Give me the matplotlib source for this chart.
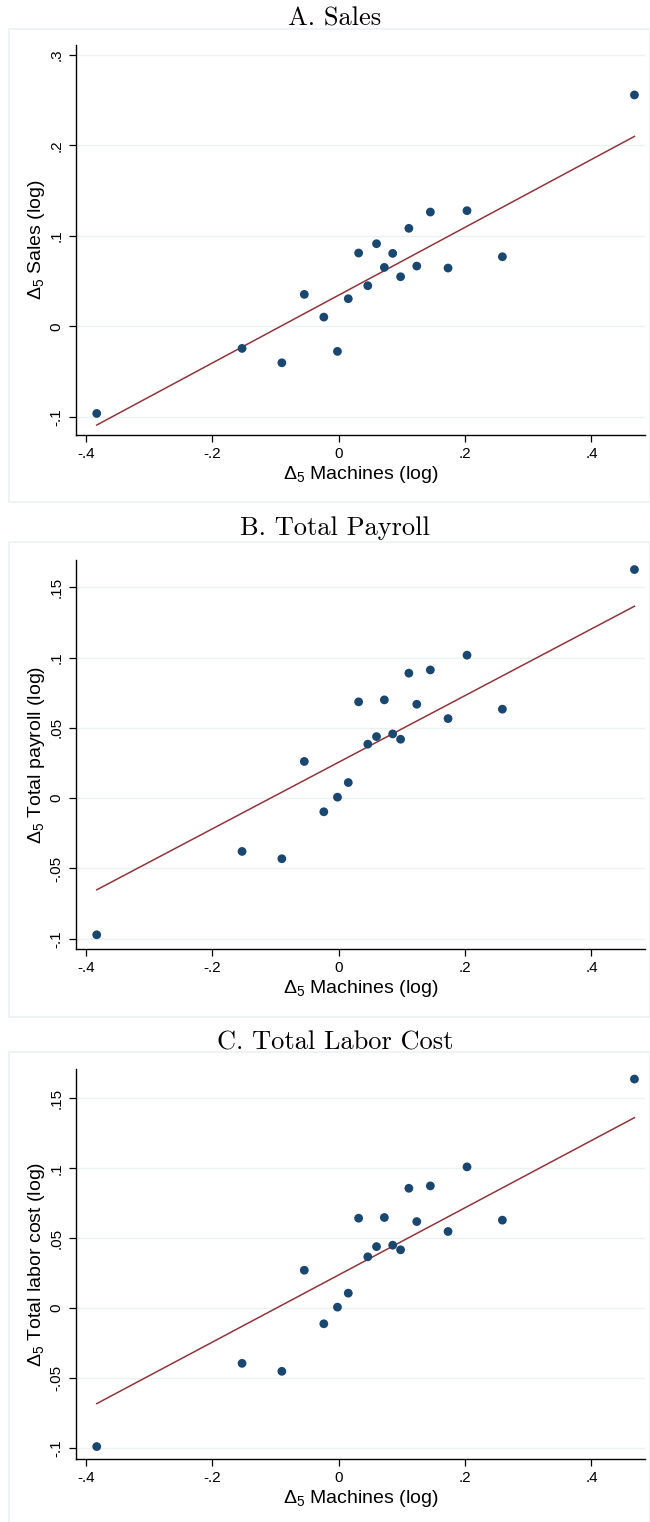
import matplotlib
matplotlib.use("Agg")
import matplotlib.pyplot as plt
from matplotlib.patches import Rectangle

# binned changes, same machine bins in every panel
machines = [-0.383, -0.153, -0.090, -0.0545, -0.0236, -0.002, 0.0151, 0.0315, 0.046, 0.0598,
            0.0722, 0.0854, 0.0979, 0.111, 0.1235, 0.145, 0.173, 0.203, 0.259, 0.468]
sales = [-0.0962, -0.0243, -0.0402, 0.0354, 0.0103, -0.0276, 0.0306, 0.0811, 0.0450, 0.0914,
         0.0652, 0.0807, 0.0549, 0.1084, 0.0667, 0.1264, 0.0645, 0.1279, 0.0770, 0.2558]
payroll = [-0.0972, -0.0379, -0.0431, 0.0261, -0.0097, 0.0007, 0.0111, 0.0685, 0.0384, 0.0438,
           0.0699, 0.0457, 0.0419, 0.0889, 0.0668, 0.0912, 0.0566, 0.1017, 0.0633, 0.1626]
laborCost = [-0.0990, -0.0395, -0.0452, 0.0271, -0.0112, 0.0007, 0.0107, 0.0643, 0.0367, 0.0440,
             0.0648, 0.0450, 0.0417, 0.0857, 0.0619, 0.0874, 0.0548, 0.1010, 0.0629, 0.1638]

# fitted lines (ends)
fitX = [-0.383, 0.468]
fitSales = [-0.109, 0.210]
fitPayroll = [-0.0652, 0.1365]
fitLabor = [-0.0683, 0.1362]

xTicks = [-0.4, -0.2, 0, 0.2, 0.4]
xTickLabels = ["-.4", "-.2", "0", ".2", ".4"]
salesTicks = [-0.1, 0, 0.1, 0.2, 0.3]
salesTickLabels = ["-.1", "0", ".1", ".2", ".3"]
costTicks = [-0.1, -0.05, 0, 0.05, 0.1, 0.15]
costTickLabels = ["-.1", "-.05", "0", ".05", ".1", ".15"]

titles = ["A. Sales", "B. Total Payroll", "C. Total Labor Cost"]
yLabels = [r"$\mathrm{\Delta}_5$ Sales (log)", r"$\mathrm{\Delta}_5$ Total payroll (log)",
           r"$\mathrm{\Delta}_5$ Total labor cost (log)"]

plt.rcParams["font.family"] = ["Liberation Sans", "DejaVu Sans"]
plt.rcParams["mathtext.fontset"] = "custom"
plt.rcParams["mathtext.rm"] = "Liberation Sans"
plt.rcParams["mathtext.it"] = "Liberation Sans:italic"

NAVY = "#1a476f"
MAROON = "#90353b"
GRID = "#eaf2f3"

W, H = 650.0, 1522.0


'''Draw one panel: box, title, dots and the fit line'''
def drawPanel(fig, top, bottom, boxTop, boxBottom, titleBase, title, ys, fitY,
              yTicks, yTickLabels, yLim, yLabel):
    fig.patches.append(Rectangle((9 / W, 1 - boxBottom / H), (W - 9) / W, (boxBottom - boxTop) / H,
                                 transform=fig.transFigure, fill=False, edgecolor=GRID, lw=1.2))
    fig.text(335 / W, 1 - titleBase / H, title, family="cmr10", fontsize=19,
             ha="center", va="baseline")

    ax = fig.add_axes([76 / W, 1 - bottom / H, (645 - 76) / W, (bottom - top) / H])
    ax.plot(fitX, fitY, color=MAROON, lw=1.1, zorder=2)
    ax.scatter(machines, ys, s=40, color=NAVY, edgecolor="none", zorder=3)

    ax.set_xlim(-0.4158, 0.4847)
    ax.set_ylim(yLim)
    ax.set_xticks(xTicks)
    ax.set_xticklabels(xTickLabels)
    ax.set_yticks(yTicks)
    ax.set_yticklabels(yTickLabels, rotation=90, va="center")
    ax.tick_params(length=5, width=0.9, labelsize=11, pad=4)
    ax.grid(axis="y", color=GRID, lw=1.0)
    ax.set_axisbelow(True)
    for side in ["top", "right"]:
        ax.spines[side].set_visible(False)
    for side in ["left", "bottom"]:
        ax.spines[side].set_linewidth(1.0)
    ax.set_xlabel(r"$\mathrm{\Delta}_5$ Machines (log)", fontsize=14, labelpad=2)
    ax.set_ylabel(yLabel, fontsize=14, labelpad=2)
    return ax


def main():
    fig = plt.figure(figsize=(6.5, 15.22), dpi=100)
    drawPanel(fig, 45, 435, 29, 502, 26, titles[0], sales, fitSales,
              salesTicks, salesTickLabels, (-0.120, 0.311), yLabels[0])
    drawPanel(fig, 560, 949, 542, 1017, 535, titles[1], payroll, fitPayroll,
              costTicks, costTickLabels, (-0.1073, 0.1694), yLabels[1])
    drawPanel(fig, 1069, 1459, 1052, 1540, 1050, titles[2], laborCost, fitLabor,
              costTicks, costTickLabels, (-0.1079, 0.171), yLabels[2])
    fig.savefig("out.png", dpi=100)


main()
